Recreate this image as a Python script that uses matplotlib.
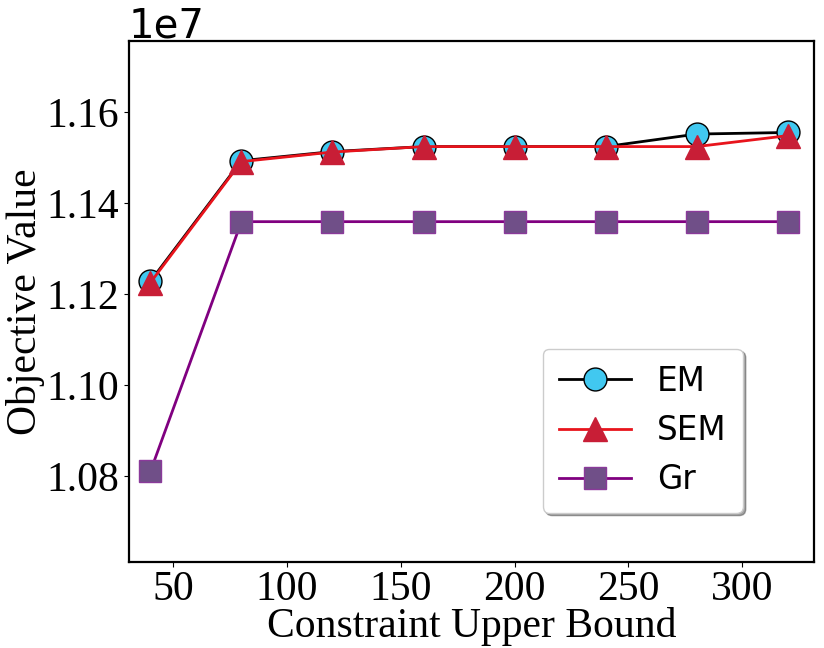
import matplotlib
matplotlib.use("Agg")
import matplotlib.pyplot as plt

# data
bounds = [40, 80, 120, 160, 200, 240, 280, 320]
em = [1.1229e7, 1.1494e7, 1.1514e7, 1.1525e7, 1.1525e7, 1.1525e7, 1.15525e7, 1.1556e7]
sem = [1.1226e7, 1.1492e7, 1.1513e7, 1.1525e7, 1.1525e7, 1.1525e7, 1.1525e7, 1.1549e7]
gr = [1.0811e7, 1.1360e7, 1.1360e7, 1.1360e7, 1.1360e7, 1.1360e7, 1.1360e7, 1.1360e7]

fig = plt.figure(figsize=(8.24, 6.48), dpi=100)
ax = fig.add_axes([0.156, 0.132, 0.832, 0.804])

ax.plot(bounds, em, color="black", lw=2, marker="o", ms=16.5,
        mfc="#41c8f0", mec="black", mew=1, label="EM")
ax.plot(bounds, sem, color="#e8141c", lw=2, marker="^", ms=17,
        mfc="#c81e36", mec="#c81e36", label="SEM")
ax.plot(bounds, gr, color="#800080", lw=2, marker="s", ms=16,
        mfc="#704f88", mec="#8a3a9a", mew=1, label="Gr")

ax.set_xlim(30.4, 331.6)
ax.set_ylim(1.0611e7, 1.1756e7)
ax.set_yticks([1.08e7, 1.10e7, 1.12e7, 1.14e7, 1.16e7])
ax.tick_params(axis="x", pad=2)

serif = ["Liberation Serif", "DejaVu Serif"]
for lab in ax.get_xticklabels() + ax.get_yticklabels():
    lab.set_family(serif)
    lab.set_fontsize(30)
ax.yaxis.get_offset_text().set_fontsize(29)
ax.set_xlabel("Constraint Upper Bound", family=serif, fontsize=30, labelpad=-1)
ax.set_ylabel("Objective Value", family=serif, fontsize=30, labelpad=1)

for s in ax.spines.values():
    s.set_linewidth(1.6)

ax.legend(loc="lower right", bbox_to_anchor=(0.92, 0.064), fontsize=23.5,
          shadow=True, fancybox=True, handlelength=2.2, borderpad=0.5,
          labelspacing=0.5)

fig.savefig("out.png", dpi=100)
